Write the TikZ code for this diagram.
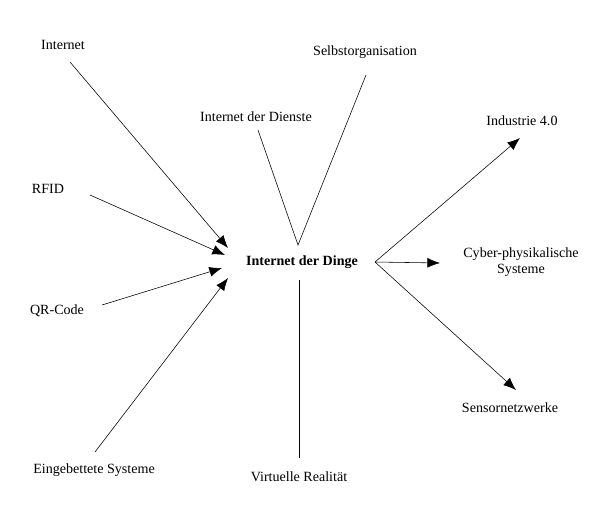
\documentclass[tikz,border=0pt]{standalone}
\usepackage{fontspec}
\setmainfont{Liberation Serif}
\usetikzlibrary{arrows.meta}
\tikzset{
    % term labels
    term/.style={font=\fontsize{10}{11}\selectfont, align=center},
    % connector styles
    arr/.style={-{Latex[length=9pt,width=7pt]}, thin},
    plain/.style={thin}
}
\begin{document}
\begin{tikzpicture}[x=0.025cm,y=-0.025cm]
\useasboundingbox (0,0) rectangle (600,527);

% Central node
\node[term, font=\fontsize{10}{11}\selectfont\bfseries] (ding) at (302,262) {Internet der Dinge};

% Input terms
\node[term] (inet) at (63,45) {Internet};
\node[term] (rfid) at (48,189) {RFID};
\node[term] (qr) at (57,311) {QR-Code};
\node[term] (embed) at (94,470) {Eingebettete Systeme};

% Related terms
\node[term] (selbst) at (365,52) {Selbstorganisation};
\node[term] (dienste) at (256,117) {Internet der Dienste};
\node[term] (vr) at (299,477) {Virtuelle Realität};

% Output terms
\node[term] (ind) at (522,121) {Industrie 4.0};
\node[term] (cps) at (521,262) {Cyber-physikalische\\Systeme};
\node[term] (sensor) at (510,408) {Sensornetzwerke};

% Connector end points
\coordinate (v) at (298,245);
\coordinate (hub) at (375,262);
\coordinate (inIn) at (228,248);
\coordinate (inRfid) at (225,255);
\coordinate (inQr) at (222,268);
\coordinate (inEmb) at (228,278);

% Arrows into the centre
\draw[arr] (70,62) -- (inIn);
\draw[arr] (90,195) -- (inRfid);
\draw[arr] (102,305) -- (inQr);
\draw[arr] (95,452) -- (inEmb);

% Plain lines
\draw[plain] (258,130) -- (v) -- (366,75);
\draw[plain] (299,280) -- (299,458);

% Arrows out of the centre
\draw[arr] (hub) -- (520,138);
\draw[arr] (hub) -- (440,263);
\draw[arr] (hub) -- (516,390);
\end{tikzpicture}
\end{document}
